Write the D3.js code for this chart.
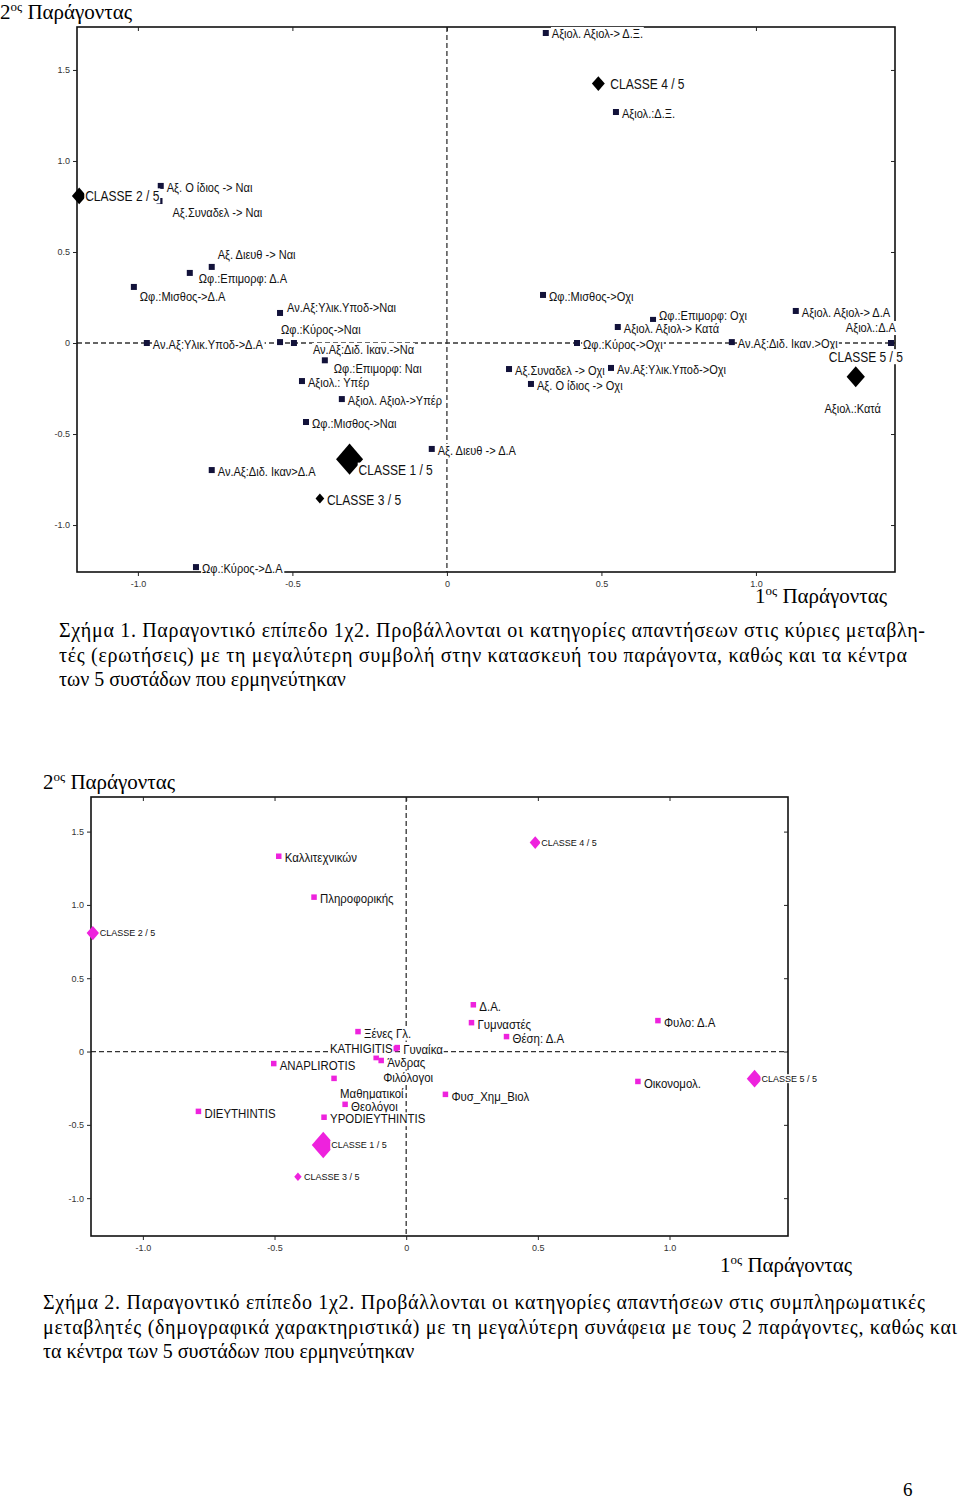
<!DOCTYPE html>
<html><head><meta charset="utf-8">
<script src="https://cdn.jsdelivr.net/npm/d3@7"></script>
<style>
body{margin:0;background:#fff;}
svg{display:block;}
</style></head>
<body>
<svg id="page" width="960" height="1500"></svg>
<script>
// ---------- DATA ----------
const xTicks = [-1.0, -0.5, 0, 0.5, 1.0];
const yTicks = [-1.0, -0.5, 0, 0.5, 1.0, 1.5];
const xTickLabels = ["-1.0", "-0.5", "0", "0.5", "1.0"];
const yTickLabels = ["-1.0", "-0.5", "0", "0.5", "1.0", "1.5"];

// Figure 1: main (active) variable categories
const mainLabels = [
  "Αξιολ. Αξιολ-> Δ.Ξ.", "Αξιολ.:Δ.Ξ.", "Αξ. Ο ίδιος -> Ναι", "Αξ.Συναδελ -> Ναι",
  "Αξ. Διευθ -> Ναι", "Ωφ.:Επιμορφ: Δ.Α", "Ωφ.:Μισθος->Δ.Α", "Αν.Αξ:Υλικ.Υποδ->Ναι",
  "Ωφ.:Κύρος->Ναι", "Αν.Αξ:Διδ. Ικαν.->Να", "Ωφ.:Επιμορφ: Ναι", "Αν.Αξ:Υλικ.Υποδ->Δ.Α",
  "Αξιολ.: Υπέρ", "Αξιολ. Αξιολ->Υπέρ", "Ωφ.:Μισθος->Ναι", "Αξ. Διευθ -> Δ.Α",
  "Αν.Αξ:Διδ. Ικαν>Δ.Α", "Ωφ.:Κύρος->Δ.Α", "Ωφ.:Μισθος->Οχι", "Ωφ.:Επιμορφ: Οχι",
  "Αξιολ. Αξιολ-> Κατά", "Ωφ.:Κύρος->Οχι", "Αν.Αξ:Διδ. Ικαν.>Οχι", "Αξιολ. Αξιολ-> Δ.Α",
  "Αξιολ.:Δ.Α", "Αξ.Συναδελ -> Οχι", "Αν.Αξ:Υλικ.Υποδ->Οχι", "Αξ. Ο ίδιος -> Οχι",
  "Αξιολ.:Κατά"
];
const mainF1 = [0.320, 0.547, -0.926, -0.930, -0.761, -0.832, -1.013, -0.540,
  -0.540, -0.495, -0.395, -0.971, -0.469, -0.340, -0.456, -0.049,
  -0.761, -0.812, 0.311, 0.667, 0.553, 0.421, 0.922, 1.129,
  1.437, 0.201, 0.531, 0.272, 1.322];
const mainF2 = [1.703, 1.269, 0.863, 0.780, 0.418, 0.385, 0.308, 0.165,
  0.005, 0.000, -0.095, 0.000, -0.209, -0.308, -0.434, -0.582,
  -0.698, -1.231, 0.264, 0.127, 0.088, 0.000, 0.005, 0.176,
  0.000, -0.143, -0.137, -0.225, -0.200];

// Figure 2: supplementary (demographic) categories
const suppLabels = [
  "Καλλιτεχνικών", "Πληροφορικής", "Δ.Α.", "Γυμναστές", "Ξένες Γλ.", "Θέση: Δ.Α",
  "KATHIGITIS", "Γυναίκα", "Φιλόλογοι", "Άνδρας", "ANAPLIROTIS", "Μαθηματικοί",
  "Θεολόγοι", "YPODIEYTHINTIS", "DIEYTHINTIS", "Φυσ_Χημ_Βιολ", "Φυλο: Δ.Α", "Οικονομολ."
];
const suppF1 = [-0.484, -0.350, 0.255, 0.248, -0.183, 0.381,
  -0.040, -0.034, -0.114, -0.095, -0.503, -0.274,
  -0.232, -0.312, -0.789, 0.149, 0.956, 0.880];
const suppF2 = [1.332, 1.053, 0.319, 0.197, 0.136, 0.102,
  0.020, 0.027, -0.041, -0.061, -0.082, -0.183,
  -0.360, -0.448, -0.408, -0.292, 0.211, -0.204];

// Cluster centres
const classLabels = ["CLASSE  1 /  5", "CLASSE  2 /  5", "CLASSE  3 /  5", "CLASSE  4 /  5", "CLASSE  5 /  5"];
const classF1 = [-0.315, -1.190, -0.411, 0.490, 1.323];
const classF2 = [-0.638, 0.808, -0.854, 1.425, -0.185];
const classWeight = [48, 14, 5, 11, 22];

// ---------- LAYOUT (label nudges, px) ----------
const mainNudge = {
  "Αξιολ. Αξιολ-> Δ.Ξ.": [6, 1],
  "Αξ.Συναδελ -> Ναι": [13, 12],
  "Αξ. Διευθ -> Ναι": [6, -12],
  "Ωφ.:Επιμορφ: Δ.Α": [9, 6],
  "Ωφ.:Μισθος->Δ.Α": [6, 10],
  "Αν.Αξ:Υλικ.Υποδ->Ναι": [7, -5],
  "Ωφ.:Κύρος->Ναι": [1, -12],
  "Αν.Αξ:Διδ. Ικαν.->Να": [19, 7],
  "Ωφ.:Επιμορφ: Ναι": [9, 8],
  "Ωφ.:Επιμορφ: Οχι": [6, -4],
  "Αξιολ.:Δ.Α": [5, -15, "end"],
  "Αξιολ.:Κατά": [-31, 29]
};
const suppNudge = {
  "KATHIGITIS": [-3, 0, "end"],
  "Φιλόλογοι": [7, 20],
  "Μαθηματικοί": [6, 15]
};
const classNudgeTop = [[9, 11], [6, 0], [7, 2], [12, 1], [-27, -20]];
const classNudgeBot = [[8, 0], [7, 0], [6, 0], [6, 0], [7, 0]];

const svg = d3.select("#page");
const SANS = "'Liberation Sans',Arial,sans-serif";
const SERIF = "'Liberation Serif','Times New Roman',serif";

function drawFactorLabel(g, x, y, num, withBg) {
  const t = g.append("text").attr("x", x).attr("y", y)
    .attr("font-family", SERIF).attr("font-size", 21).attr("fill", "#000");
  t.append("tspan").text(num);
  t.append("tspan").attr("font-size", 13).attr("dy", -8).text("ος");
  t.append("tspan").attr("dy", 8).text(" Παράγοντας");
  if (withBg) {
    const bb = t.node().getBBox();
    g.insert("rect", "text")
      .attr("x", bb.x - 2).attr("y", bb.y + 4).attr("width", bb.width + 4).attr("height", bb.height - 4)
      .attr("fill", "#fff");
  }
  return t;
}

function labelWithBg(g, x, y, txt, size, anchor, color, sx) {
  const grp = g.append("g").attr("transform", `translate(${x},${y}) scale(${sx},1)`);
  const rect = grp.append("rect").attr("fill", "#fff");
  const t = grp.append("text").attr("x", 0).attr("y", 0)
    .attr("font-family", SANS).attr("font-size", size)
    .attr("text-anchor", anchor || "start").attr("dominant-baseline", "central")
    .attr("fill", color || "#000").text(txt);
  const bb = t.node().getBBox();
  rect.attr("x", bb.x - 1).attr("y", bb.y + 0.5).attr("width", bb.width + 2).attr("height", bb.height - 1);
}

function diamond(g, cx, cy, r, color) {
  const h = r * 1.15;
  g.append("path")
    .attr("d", `M${cx},${cy - h}L${cx + r},${cy}L${cx},${cy + h}L${cx - r},${cy}Z`)
    .attr("fill", color);
}

function drawChart(opt) {
  const g = svg.append("g");
  const x = d3.scaleLinear().domain([-1.197, 1.45]).range([opt.left, opt.right]);
  const y = d3.scaleLinear().domain([-1.258, 1.736]).range([opt.bottom, opt.top]);

  // dashed zero lines
  g.append("line").attr("x1", opt.left).attr("x2", opt.right).attr("y1", y(0)).attr("y2", y(0))
    .attr("stroke", "#333").attr("stroke-width", 1.3).attr("stroke-dasharray", "5,3");
  g.append("line").attr("x1", x(0)).attr("x2", x(0)).attr("y1", opt.top).attr("y2", opt.bottom)
    .attr("stroke", "#333").attr("stroke-width", 1.3).attr("stroke-dasharray", "5,3");

  // frame
  g.append("rect").attr("x", opt.left).attr("y", opt.top)
    .attr("width", opt.right - opt.left).attr("height", opt.bottom - opt.top)
    .attr("fill", "none").attr("stroke", "#111").attr("stroke-width", 1.6);

  // ticks via axes
  const axB = d3.axisBottom(x).tickValues(xTicks).tickFormat((d, i) => xTickLabels[i]).tickSize(4).tickPadding(5);
  const axT = d3.axisBottom(x).tickValues(xTicks).tickFormat("").tickSize(4);
  const axL = d3.axisLeft(y).tickValues(yTicks).tickFormat((d, i) => yTickLabels[i]).tickSize(4).tickPadding(3);
  const axR = d3.axisLeft(y).tickValues(yTicks).tickFormat("").tickSize(4);
  const styleAx = s => {
    s.select(".domain").remove();
    s.selectAll("line").attr("stroke", "#222");
    s.selectAll("text").attr("font-family", SANS).attr("font-size", 9).attr("fill", "#333");
  };
  g.append("g").attr("transform", `translate(0,${opt.bottom})`).call(axB).call(styleAx);
  g.append("g").attr("transform", `translate(0,${opt.top})`).call(axT).call(styleAx);
  g.append("g").attr("transform", `translate(${opt.left},0)`).call(axL).call(styleAx);
  g.append("g").attr("transform", `translate(${opt.right},0)`).call(axR).call(styleAx);

  // point markers
  const pts = opt.labels.map((l, i) => ({ l, px: x(opt.f1[i]), py: y(opt.f2[i]) }));
  g.selectAll("rect.pt").data(pts).join("rect").attr("class", "pt")
    .attr("x", d => d.px - opt.ms / 2).attr("y", d => d.py - opt.ms / 2)
    .attr("width", opt.ms).attr("height", opt.ms).attr("fill", opt.color);

  // point labels
  pts.forEach(d => {
    const n = opt.nudge[d.l] || [6, 2];
    labelWithBg(g, d.px + n[0], d.py + n[1], d.l, opt.fs, n[2], "#111", opt.sx);
  });

  // cluster centres
  const rs = d3.scaleSqrt().domain([0, d3.max(classWeight)]).range([0, opt.maxR]);
  classLabels.forEach((l, i) => {
    const cx = x(classF1[i]), cy = y(classF2[i]);
    diamond(g, cx, cy, rs(classWeight[i]), opt.dcolor);
    const n = opt.cnudge[i];
    labelWithBg(g, cx + n[0], cy + n[1], l, opt.cfs, "start", "#111", opt.csx);
  });
  return { x, y };
}

// ---------- Figure 1 ----------
drawFactorLabel(svg, 0, 19, "2");
drawChart({
  left: 77, right: 895, top: 27, bottom: 572,
  labels: mainLabels, f1: mainF1, f2: mainF2, nudge: mainNudge,
  color: "#12123a", ms: 6, fs: 13, sx: 0.85,
  dcolor: "#000", maxR: 13.5, cnudge: classNudgeTop, cfs: 14, csx: 0.86
});
const t1 = svg.append("g");
drawFactorLabel(t1, 755, 603, "1", true);

const cap1 = [
  "Σχήμα 1. Παραγοντικό επίπεδο 1χ2. Προβάλλονται οι κατηγορίες απαντήσεων στις κύριες μεταβλη-",
  "τές (ερωτήσεις) με τη μεγαλύτερη συμβολή στην κατασκευή του παράγοντα, καθώς και τα κέντρα",
  "των 5 συστάδων που ερμηνεύτηκαν"
];
const cap1W = [866, 848, null];
svg.append("g").selectAll("text").data(cap1).join("text")
  .attr("x", 59).attr("y", (d, i) => 637 + i * 24.5)
  .attr("font-family", SERIF).attr("font-size", 20).attr("fill", "#000")
  .each(function (d, i) { if (cap1W[i]) d3.select(this).attr("textLength", cap1W[i]).attr("lengthAdjust", "spacing"); })
  .text(d => d);

// ---------- Figure 2 ----------
drawFactorLabel(svg, 43, 789, "2");
drawChart({
  left: 91, right: 788, top: 797, bottom: 1236,
  labels: suppLabels, f1: suppF1, f2: suppF2, nudge: suppNudge,
  color: "#ee22dd", ms: 5.5, fs: 13, sx: 0.88,
  dcolor: "#ee22dd", maxR: 11.5, cnudge: classNudgeBot, cfs: 9, csx: 1
});
const t2 = svg.append("g");
drawFactorLabel(t2, 720, 1272, "1", true);

const cap2 = [
  "Σχήμα 2. Παραγοντικό επίπεδο 1χ2. Προβάλλονται οι κατηγορίες απαντήσεων στις συμπληρωματικές",
  "μεταβλητές (δημογραφικά χαρακτηριστικά) με τη μεγαλύτερη συνάφεια με τους 2 παράγοντες, καθώς και",
  "τα κέντρα των 5 συστάδων που ερμηνεύτηκαν"
];
const cap2W = [882, 914, null];
svg.append("g").selectAll("text").data(cap2).join("text")
  .attr("x", 43).attr("y", (d, i) => 1309 + i * 24.5)
  .attr("font-family", SERIF).attr("font-size", 20).attr("fill", "#000")
  .each(function (d, i) { if (cap2W[i]) d3.select(this).attr("textLength", cap2W[i]).attr("lengthAdjust", "spacing"); })
  .text(d => d);

svg.append("text").attr("x", 903).attr("y", 1496).attr("font-family", SERIF).attr("font-size", 19).text("6");
</script>
</body></html>
